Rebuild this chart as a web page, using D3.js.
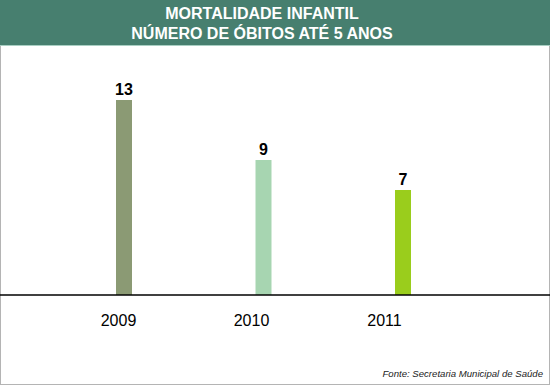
<!DOCTYPE html>
<html>
<head>
<meta charset="utf-8">
<script src="https://cdn.jsdelivr.net/npm/d3@7"></script>
<style>
  body { margin: 0; background: #fff; }
  svg { display: block; font-family: "Liberation Sans", Arial, sans-serif; }
</style>
</head>
<body>
<div id="chart"></div>
<script>
const years = ["2009", "2010", "2011"];
const deaths = [13, 9, 7];
const barColors = ["#8b9a74", "#a7d5b1", "#9acd1c"];
const titleLines = ["MORTALIDADE INFANTIL", "NÚMERO DE ÓBITOS ATÉ 5 ANOS"];
const source = "Fonte: Secretaria Municipal de Saúde";

const width = 550;
const height = 385;
const baseY = 295;

const svg = d3.select("#chart").append("svg")
    .attr("width", width)
    .attr("height", height);

// frame
svg.append("rect")
    .attr("x", 0.5).attr("y", 0.5)
    .attr("width", width - 1).attr("height", height - 1)
    .attr("fill", "#fff")
    .attr("stroke", "#b4b4b4");

// header
svg.append("rect")
    .attr("x", 0).attr("y", 0)
    .attr("width", width).attr("height", 45)
    .attr("fill", "#477f6f");
svg.append("line")
    .attr("x1", 0).attr("x2", width)
    .attr("y1", 45.5).attr("y2", 45.5)
    .attr("stroke", "#a9cfc3");

svg.append("g")
  .selectAll("text")
  .data(titleLines)
  .join("text")
    .attr("x", 262)
    .attr("y", (d, i) => 19 + i * 20)
    .attr("text-anchor", "middle")
    .attr("fill", "#fff")
    .attr("font-weight", "bold")
    .attr("font-size", 16)
    .text(d => d);

const x = d3.scalePoint()
    .domain(years)
    .range([124, 403]);

const xLabel = d3.scalePoint()
    .domain(years)
    .range([118, 384]);

const y = d3.scaleLinear()
    .domain([0, 13])
    .range([baseY, 100]);

const barW = 16;

svg.append("g")
  .selectAll("rect")
  .data(years)
  .join("rect")
    .attr("x", d => x(d) - barW / 2)
    .attr("y", (d, i) => y(deaths[i]))
    .attr("width", barW)
    .attr("height", (d, i) => baseY - y(deaths[i]))
    .attr("fill", (d, i) => barColors[i]);

svg.append("g")
  .selectAll("text")
  .data(years)
  .join("text")
    .attr("x", d => x(d))
    .attr("y", (d, i) => y(deaths[i]) - 5)
    .attr("text-anchor", "middle")
    .attr("font-weight", "bold")
    .attr("font-size", 16)
    .attr("fill", "#000")
    .text((d, i) => deaths[i]);

// baseline
svg.append("line")
    .attr("x1", 0).attr("x2", width)
    .attr("y1", baseY).attr("y2", baseY)
    .attr("stroke", "#000")
    .attr("stroke-width", 1.5);

// year labels
svg.append("g")
    .attr("transform", `translate(0,${baseY})`)
    .call(d3.axisBottom(xLabel).tickSize(0).tickPadding(0))
    .call(g => g.select(".domain").remove())
    .call(g => g.selectAll("text")
        .attr("dy", null)
        .attr("y", 31)
        .attr("font-family", "Liberation Sans, Arial, sans-serif")
        .attr("font-size", 16)
        .attr("fill", "#000"));

svg.append("text")
    .attr("x", 543)
    .attr("y", 377)
    .attr("text-anchor", "end")
    .attr("font-style", "italic")
    .attr("font-size", 9.6)
    .attr("fill", "#222")
    .text(source);
</script>
</body>
</html>
